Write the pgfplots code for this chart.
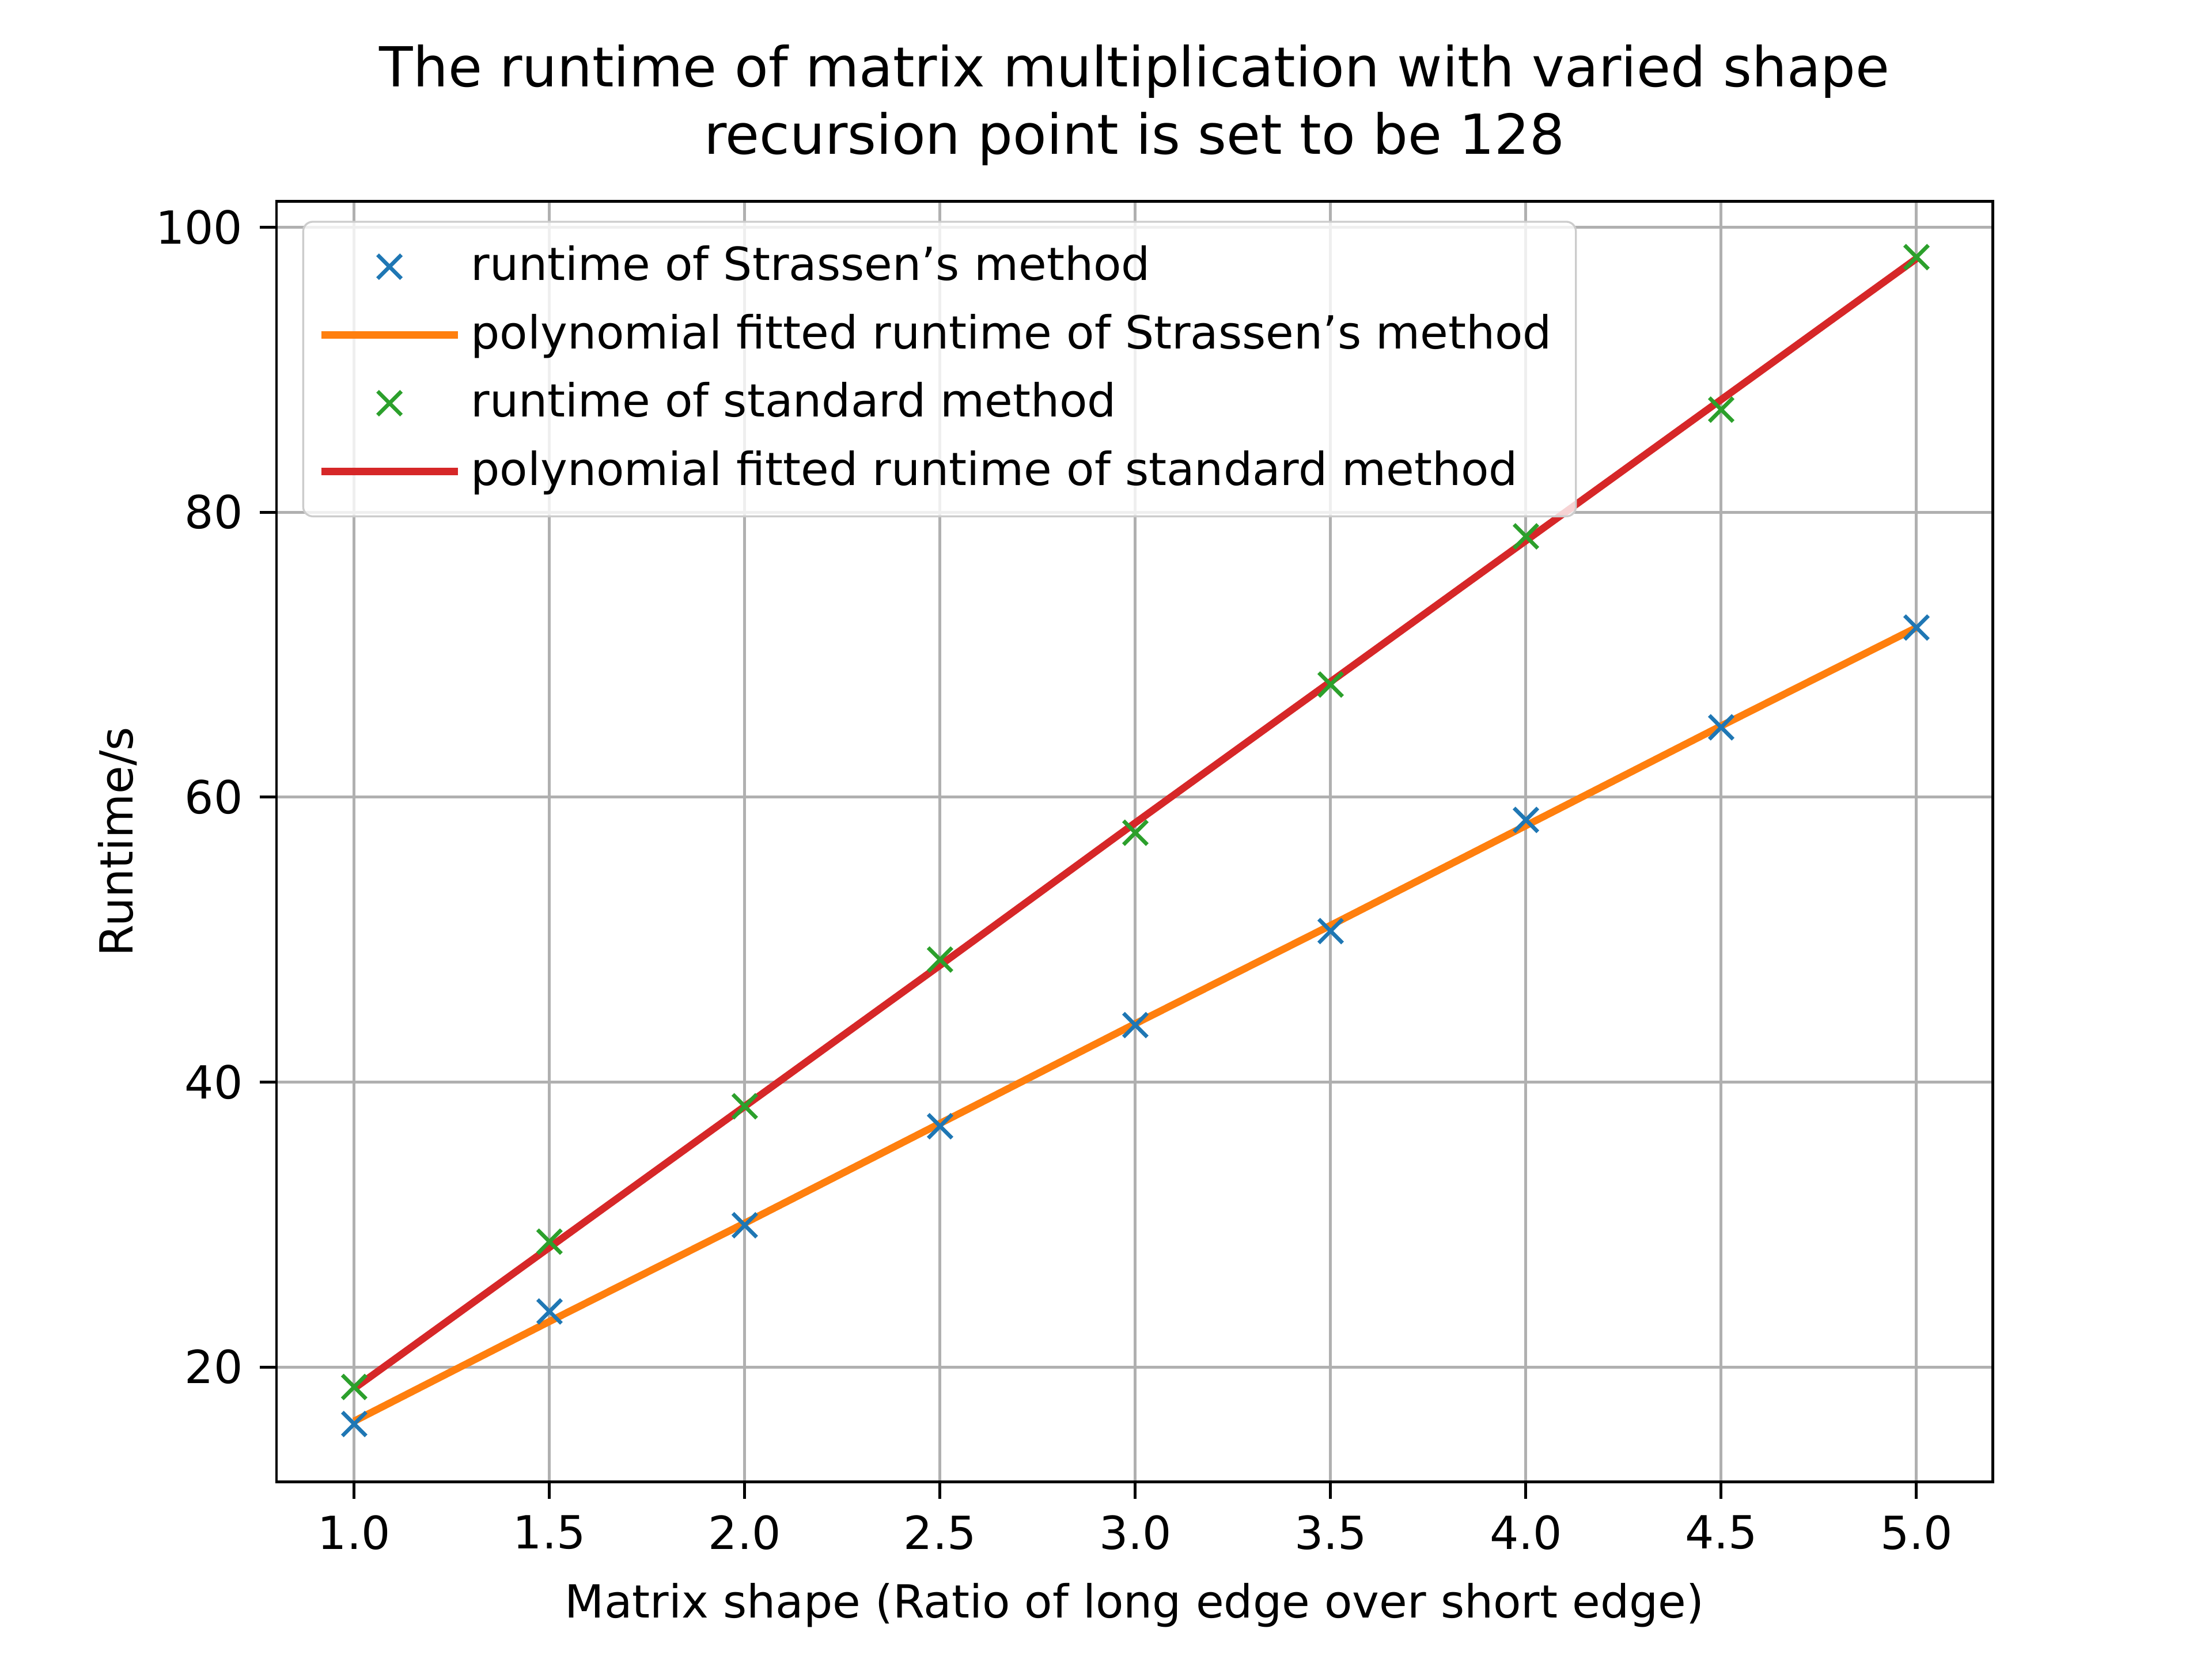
\documentclass[border=0pt]{standalone}
\usepackage{pgfplots}
\pgfplotsset{compat=1.18}
\usepackage{fontspec}
\setmainfont{DejaVu Sans}
\definecolor{tblue}{HTML}{1F77B4}
\definecolor{torange}{HTML}{FF7F0E}
\definecolor{tgreen}{HTML}{2CA02C}
\definecolor{tred}{HTML}{D62728}
\newcommand{\q}{{\char"27}}
\begin{document}
\begin{tikzpicture}
\useasboundingbox (0,0) rectangle (460.8pt,345.6pt);
\begin{axis}[
  at={(57.6pt,36.9pt)}, anchor=south west,
  width=357.5pt, height=266.7pt, scale only axis,
  xmin=0.801, xmax=5.195, ymin=11.94, ymax=101.8,
  xtick={1,1.5,...,5}, ytick={20,40,60,80,100},
  xtick pos=bottom, ytick pos=left,
  xticklabel style={/pgf/number format/.cd,fixed,fixed zerofill,precision=1},
  /pgf/number format/assume math mode=true,
  tick align=outside, tick style={black, line width=0.6pt},
  major tick length=3.5pt,
  grid=major, grid style={color=black!31, line width=0.6pt},
  axis line style={line width=0.6pt},
  every tick label/.append style={font=\fontsize{9.5}{11}\selectfont},
  xlabel={Matrix shape (Ratio of long edge over short edge)},
  ylabel={Runtime/s},
  ylabel shift=-3pt,
  label style={font=\fontsize{9.5}{11}\selectfont},
  title={The runtime of matrix multiplication with varied shape\\recursion point is set to be 128},
  title style={font=\fontsize{11.5}{14}\selectfont, align=center, yshift=-2pt},
  legend style={at={(0.015,0.985)}, anchor=north west, font=\fontsize{9.5}{11}\selectfont,
    draw=black!20, rounded corners=2pt, fill=white, fill opacity=0.8, text opacity=1,
    row sep=1.5pt, inner sep=3pt},
  legend image code/.code={
    \draw[mark repeat=2,mark phase=2] plot coordinates {(0cm,0cm) (0.5cm,0cm) (1.0cm,0cm)};},
  legend cell align=left,
]
\addplot[only marks, mark=x, mark size=3.5pt, color=tblue, mark options={line width=0.8pt}] coordinates {
(1.0,16.0)(1.5,23.9)(2.0,29.95)(2.5,36.9)(3.0,44.0)(3.5,50.6)(4.0,58.4)(4.5,64.9)(5.0,71.9)};
\addlegendentry{runtime of Strassen\q s method}
\addplot[torange, line width=1.5pt] coordinates {
(1.0,16.2)(1.5,23.2)(2.0,30.1)(2.5,37.1)(3.0,44.1)(3.5,51.0)(4.0,58.0)(4.5,65.0)(5.0,71.9)};
\addlegendentry{polynomial fitted runtime of Strassen\q s method}
\addplot[only marks, mark=x, mark size=3.5pt, color=tgreen, mark options={line width=0.8pt}] coordinates {
(1.0,18.6)(1.5,28.8)(2.0,38.3)(2.5,48.6)(3.0,57.5)(3.5,67.9)(4.0,78.3)(4.5,87.2)(5.0,97.9)};
\addlegendentry{runtime of standard method}
\addplot[tred, line width=1.5pt] coordinates {
(1.0,18.5)(1.5,28.4)(2.0,38.3)(2.5,48.2)(3.0,58.2)(3.5,68.1)(4.0,78.0)(4.5,87.9)(5.0,97.8)};
\addlegendentry{polynomial fitted runtime of standard method}
\end{axis}
\end{tikzpicture}
\end{document}
